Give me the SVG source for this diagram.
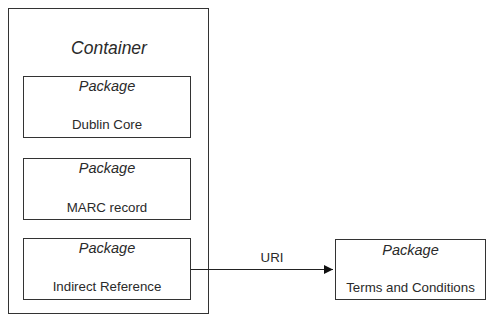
<svg xmlns="http://www.w3.org/2000/svg" width="499" height="324" viewBox="0 0 499 324">
<style>
.box{fill:#fff;stroke:#333;stroke-width:1}
.t{font-family:"Liberation Sans",Arial,sans-serif;fill:#2a2a2a;text-anchor:middle}
.it{font-style:italic;font-size:14.5px}
.n{font-size:13.3px}
.edge{stroke:#222;stroke-width:1;fill:none}
</style>
<defs>
<marker id="arr" markerWidth="10" markerHeight="10" refX="9" refY="5" orient="auto" markerUnits="userSpaceOnUse">
<path d="M0,0.5 L9,5 L0,9.5 Z" fill="#111"/>
</marker>
</defs>
<rect width="499" height="324" fill="#fff"/>
<g id="container">
<rect class="box" x="8.5" y="8.5" width="200" height="305"/>
<text class="t" x="109" y="54" style="font-style:italic;font-size:17.5px">Container</text>
</g>
<g id="pkg-dublin">
<rect class="box" x="23.5" y="76.5" width="167" height="61"/>
<text class="t it" x="107" y="91">Package</text>
<text class="t n" x="107" y="129">Dublin Core</text>
</g>
<g id="pkg-marc">
<rect class="box" x="23.5" y="158.5" width="167" height="61"/>
<text class="t it" x="107" y="173">Package</text>
<text class="t n" x="107" y="211.5">MARC record</text>
</g>
<g id="pkg-indirect">
<rect class="box" x="23.5" y="238.5" width="167" height="61"/>
<text class="t it" x="107" y="253">Package</text>
<text class="t n" x="107" y="291">Indirect Reference</text>
</g>
<g id="pkg-terms">
<rect class="box" x="335.5" y="239.5" width="150" height="60"/>
<text class="t it" x="410.5" y="255">Package</text>
<text class="t n" x="410.5" y="291.5">Terms and Conditions</text>
</g>
<g id="connectors">
<line class="edge" x1="191" y1="269.5" x2="333" y2="269.5" marker-end="url(#arr)"/>
<text class="t n" x="272" y="262">URI</text>
</g>
</svg>
